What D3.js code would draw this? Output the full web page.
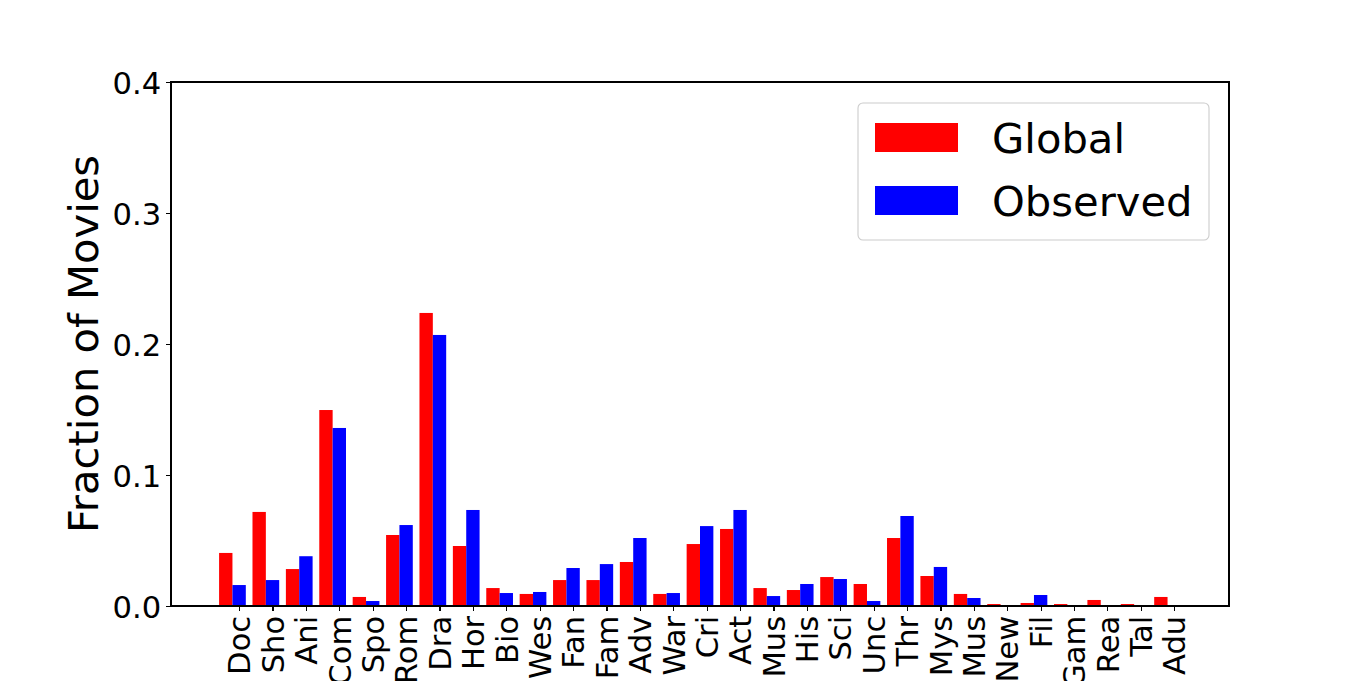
<!DOCTYPE html>
<meta charset="utf-8">
<style>
    body {
        margin: 0;
        background: #fff;
        font-family: "DejaVu Sans", sans-serif;
    }

    .axis path,
    .axis line {
        fill: none;
        stroke: #000;
        stroke-width: 1.1px;
        shape-rendering: crispEdges;
    }

    .axis text {
        fill: black;
        font-size: 30.6px;
        font-family: "DejaVu Sans", sans-serif;
    }
</style>

<body>
    <script src="https://d3js.org/d3.v7.min.js"></script>
    <script>

        var genres = ["Doc", "Sho", "Ani", "Com", "Spo", "Rom", "Dra", "Hor", "Bio", "Wes",
            "Fan", "Fam", "Adv", "War", "Cri", "Act", "Mus", "His", "Sci", "Unc",
            "Thr", "Mys", "Mus", "New", "Fil", "Gam", "Rea", "Tal", "Adu"];

        var globalFrac = [0.0405, 0.0718, 0.0282, 0.1496, 0.0069, 0.0542, 0.2237, 0.0458, 0.0137, 0.0092,
            0.0198, 0.0198, 0.0336, 0.0092, 0.0473, 0.0588, 0.0137, 0.0122, 0.0221, 0.0168,
            0.0519, 0.0229, 0.0092, 0.0015, 0.0023, 0.0015, 0.0046, 0.0015, 0.0069];

        var observedFrac = [0.016, 0.0198, 0.038, 0.1359, 0.0038, 0.0618, 0.2069, 0.0733, 0.0099, 0.0107,
            0.029, 0.032, 0.0519, 0.0099, 0.061, 0.0733, 0.0076, 0.0168, 0.0206, 0.0038,
            0.0687, 0.0298, 0.0061, 0, 0.0084, 0, 0, 0, 0];

        var yTicks = [0, 0.1, 0.2, 0.3, 0.4];

        var series = [
            { name: "Global", color: "#ff0000", offset: -0.4, values: globalFrac },
            { name: "Observed", color: "#0000ff", offset: 0, values: observedFrac }
        ];

        var barWidth = 0.4;
        var margin = { top: 82, right: 137, bottom: 75, left: 171 },
            width = 1366 - margin.left - margin.right,
            height = 681 - margin.top - margin.bottom;

        // matplotlib-like x limits: bars span -0.6..28.2, plus 5% margins
        var lo = -0.6, hi = genres.length - 1 + 0.2, pad = (hi - lo) * 0.05;
        var x = d3.scaleLinear()
            .domain([lo - pad, hi + pad])
            .range([0, width]);

        var y = d3.scaleLinear()
            .domain([0, 0.4])
            .range([height, 0]);

        var svg = d3.select("body").append("svg")
            .attr("width", 1366)
            .attr("height", 681)
            .append("g")
            .attr("transform", "translate(" + margin.left + "," + margin.top + ")");

        series.forEach(function (s) {
            svg.append("g")
                .selectAll("rect")
                .data(s.values)
                .enter()
                .append("rect")
                .attr("x", function (d, i) { return x(i + s.offset - barWidth / 2); })
                .attr("width", x(barWidth) - x(0))
                .attr("y", function (d) { return y(d); })
                .attr("height", function (d) { return y(0) - y(d); })
                .style("fill", s.color);
        });

        // frame
        svg.append("rect")
            .attr("width", width)
            .attr("height", height)
            .style("fill", "none")
            .style("stroke", "#000")
            .style("stroke-width", 1.1)
            .style("shape-rendering", "crispEdges");

        var xAxis = d3.axisBottom(x)
            .tickValues(d3.range(genres.length))
            .tickFormat(function (i) { return genres[i]; })
            .tickSize(4.9)
            .tickPadding(4.9);

        var gx = svg.append("g")
            .attr("class", "x axis")
            .attr("transform", "translate(0," + height + ")")
            .call(xAxis);
        gx.select(".domain").remove();
        gx.selectAll("text")
            .attr("transform", "rotate(-90)")
            .attr("x", -9.8)
            .attr("y", 0)
            .attr("dy", "0.35em")
            .style("text-anchor", "end");

        var yAxis = d3.axisLeft(y)
            .tickValues(yTicks)
            .tickFormat(d3.format(".1f"))
            .tickSize(4.9)
            .tickPadding(4.9);

        var gy = svg.append("g")
            .attr("class", "y axis")
            .call(yAxis);
        gy.select(".domain").remove();
        gy.selectAll("text").attr("dy", "0.36em");

        svg.append("text")
            .attr("transform", "rotate(-90)")
            .attr("x", -height / 2)
            .attr("y", -88)
            .attr("dy", "0.35em")
            .style("text-anchor", "middle")
            .style("font-size", "41.7px")
            .text("Fraction of Movies");

        // legend
        var legend = svg.append("g")
            .attr("transform", "translate(" + (858 - margin.left) + "," + (103 - margin.top) + ")");

        legend.append("rect")
            .attr("width", 351)
            .attr("height", 137)
            .attr("rx", 5)
            .style("fill", "#fff")
            .style("fill-opacity", 0.8)
            .style("stroke", "#cccccc")
            .style("stroke-width", 1.1);

        var items = legend.selectAll(".legend")
            .data(series)
            .enter().append("g")
            .attr("class", "legend")
            .attr("transform", function (d, i) { return "translate(17," + (20 + i * 63) + ")"; });

        items.append("rect")
            .attr("width", 83)
            .attr("height", 29)
            .style("fill", function (d) { return d.color; });

        items.append("text")
            .attr("x", 117)
            .attr("y", 15)
            .attr("dy", "0.35em")
            .style("font-size", "41.7px")
            .text(function (d) { return d.name; });

    </script>
</body>
